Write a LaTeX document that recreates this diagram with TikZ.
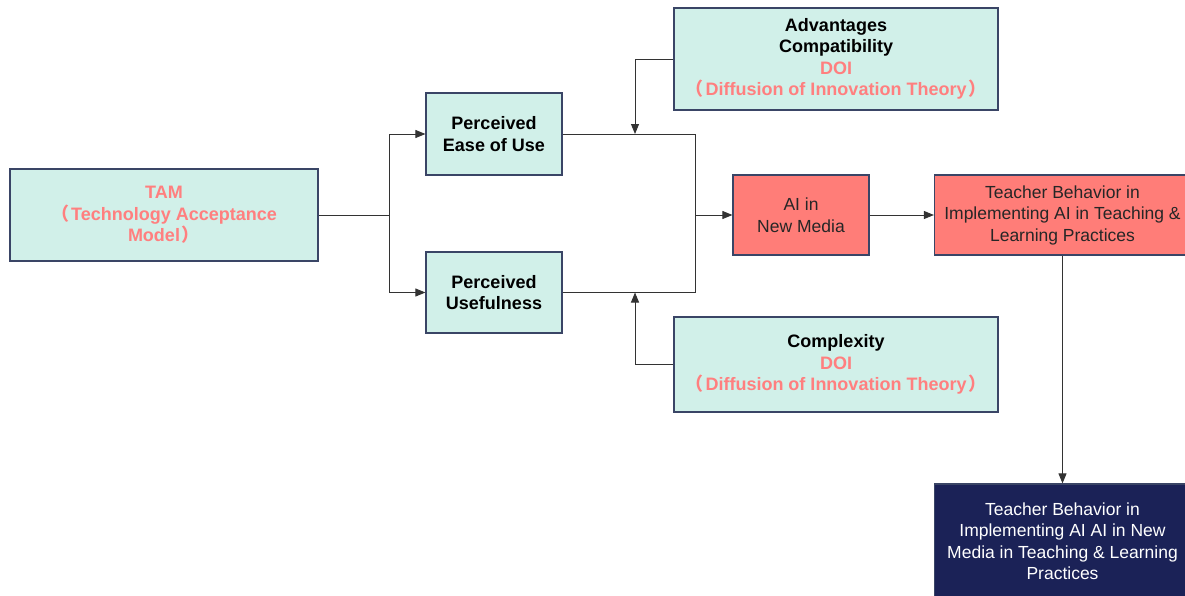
\documentclass[tikz,border=0pt]{standalone}
\usepackage{xcolor}
\usepackage{fontspec}
\setmainfont{Liberation Sans}
\newfontfamily\cjk{Noto Sans CJK SC}
\usepackage{tikz}
\usetikzlibrary{arrows.meta}

\definecolor{mint}{HTML}{D1F0E9}
\definecolor{salmon}{HTML}{FF7D78}
\definecolor{pinktext}{HTML}{FF7F7F}
\definecolor{navy}{HTML}{1B2257}
\definecolor{rim}{HTML}{3A4566}
\newcommand{\lpar}{{\cjk （}\hspace{2pt}}
\newcommand{\rpar}{\hspace{2pt}{\cjk ）}}

\tikzset{
	box/.style={draw=rim, line width=1.2pt, align=center, inner sep=0pt,
		font=\fontsize{17.5}{21.5}\selectfont},
	mintbox/.style={box, fill=mint, font=\fontsize{18}{21.5}\selectfont\bfseries},
	redbox/.style={box, fill=salmon, text=black!85},
	darkbox/.style={box, fill=navy, text=white},
	line/.style={draw=black!80, line width=0.9pt},
	arrow/.style={line, -{Triangle[length=10pt,width=8pt]}}
}

\begin{document}
\begin{tikzpicture}[x=1pt,y=-1pt]
			\useasboundingbox (0,0) rectangle (1185,595);

			% boxes
			\node[mintbox, minimum width=308pt, minimum height=92pt, text=pinktext] (tam) at (164,215)
				{TAM\\\lpar Technology Acceptance\\Model\rpar};
			\node[mintbox, minimum width=136pt, minimum height=82pt] (peou) at (494,134)
				{Perceived\\Ease of Use};
			\node[mintbox, minimum width=136pt, minimum height=81pt] (pu) at (494,292.5)
				{Perceived\\Usefulness};
			\node[mintbox, minimum width=324pt, minimum height=102pt] (adv) at (836,59)
				{Advantages\\Compatibility\\\textcolor{pinktext}{DOI}\\\textcolor{pinktext}{\lpar Diffusion of Innovation Theory\rpar}};
			\node[mintbox, minimum width=324pt, minimum height=95pt] (cplx) at (836,364.5)
				{Complexity\\\textcolor{pinktext}{DOI}\\\textcolor{pinktext}{\lpar Diffusion of Innovation Theory\rpar}};
			\node[redbox, minimum width=136pt, minimum height=80pt] (ai) at (801,215)
				{AI in\\New Media};
			\node[redbox, minimum width=256pt, minimum height=80pt] (teach) at (1062.5,215)
				{Teacher Behavior in\\Implementing AI in Teaching \&\\Learning Practices};
			\node[darkbox, minimum width=256pt, minimum height=114pt] (result) at (1062.5,541)
				{Teacher Behavior in\\Implementing AI AI in New\\Media in Teaching \& Learning\\Practices};

			% connectors
			\coordinate (split) at (389,215);
			\coordinate (join) at (695,215);
			\coordinate (topin) at (635,134);
			\coordinate (botin) at (635,292.5);
			\draw[line] (tam.east) -- (split);
			\draw[arrow] (split) |- (peou.west);
			\draw[arrow] (split) |- (pu.west);
			\draw[line] (peou.east) -| (join);
			\draw[line] (pu.east) -| (join);
			\draw[arrow] (join) -- (ai.west);
			\draw[arrow] (adv.west) -| (topin);
			\draw[arrow] (cplx.west) -| (botin);
			\draw[arrow] (ai.east) -- (teach.west);
			\draw[arrow] (teach.south) -- (result.north);
		\end{tikzpicture}
\end{document}
